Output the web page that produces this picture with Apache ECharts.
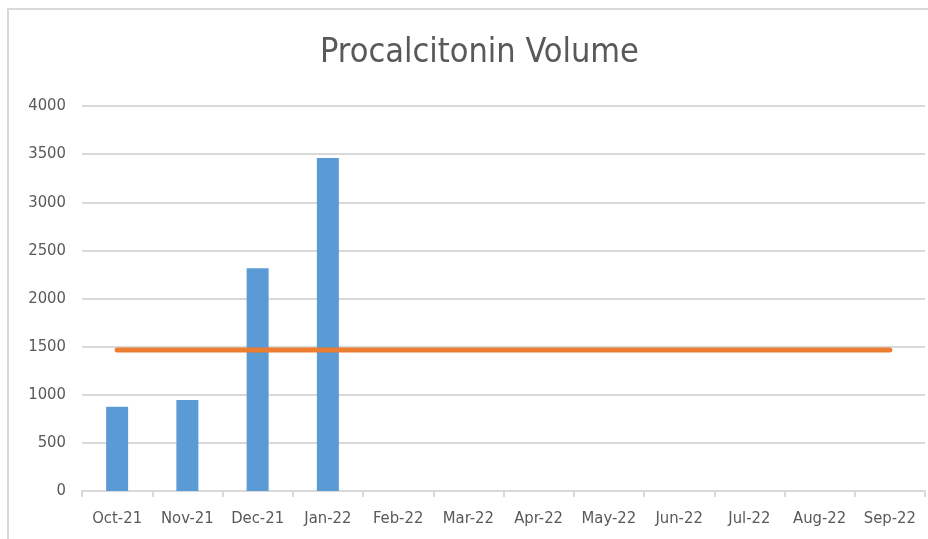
<!DOCTYPE html>
<html>
<head>
<meta charset="utf-8">
<script src="https://cdn.jsdelivr.net/npm/echarts@6/dist/echarts.min.js"></script>
<style>
  html, body { margin: 0; padding: 0; background: #fff; }
  #frame { position: absolute; left: 7px; top: 8px; width: 940px; height: 560px; border: 2px solid #d9d9d9; }
  #chart { position: absolute; left: 0; top: 0; width: 928px; height: 539px; }
</style>
</head>
<body>
<div id="frame"></div>
<div id="chart"></div>
<script>
const months = ['Oct-21', 'Nov-21', 'Dec-21', 'Jan-22', 'Feb-22', 'Mar-22', 'Apr-22', 'May-22', 'Jun-22', 'Jul-22', 'Aug-22', 'Sep-22'];
const volume = [875, 945, 2315, 3460, null, null, null, null, null, null, null, null];
const average = [1465, 1465, 1465, 1465, 1465, 1465, 1465, 1465, 1465, 1465, 1465, 1465];

const font = "'DejaVu Sans Condensed', 'Liberation Sans', sans-serif";

const myChart = echarts.init(document.getElementById('chart'));
myChart.setOption({
    animation: false,
    title: {
        text: 'Procalcitonin Volume',
        left: 315,
        top: 31,
        textStyle: { fontFamily: font, fontSize: 34, fontWeight: 'normal', color: '#595959' }
    },
    grid: { left: 82, right: 3, top: 106, bottom: 48 },
    xAxis: {
        type: 'category',
        data: months,
        axisLine: { lineStyle: { color: '#d9d9d9', width: 2 } },
        axisTick: { show: true, length: 6, lineStyle: { color: '#d9d9d9', width: 2 } },
        axisLabel: { fontFamily: font, fontSize: 16.5, color: '#595959', margin: 19, interval: 0 }
    },
    yAxis: {
        type: 'value',
        min: 0,
        max: 4000,
        interval: 500,
        axisLine: { show: false },
        axisTick: { show: false },
        splitLine: { lineStyle: { color: '#d9d9d9', width: 2 } },
        axisLabel: { fontFamily: font, fontSize: 16.5, color: '#595959', margin: 16, formatter: v => String(v) }
    },
    series: [
        {
            type: 'bar',
            data: volume,
            barWidth: 22,
            itemStyle: { color: '#5b9bd5' }
        },
        {
            type: 'line',
            data: average,
            symbol: 'none',
            lineStyle: { color: '#ed7d31', width: 5, cap: 'round' }
        }
    ]
});
</script>
</body>
</html>
